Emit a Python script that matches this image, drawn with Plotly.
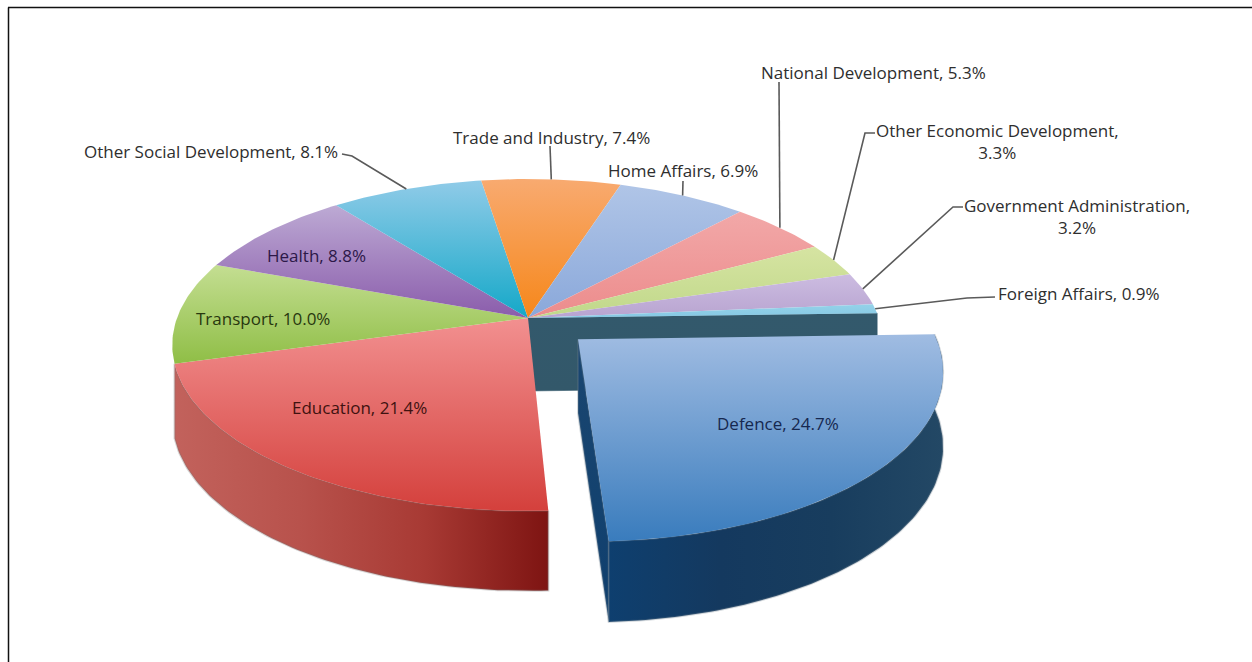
import numpy as np
import plotly.graph_objects as go

# Spending shares, clockwise from the exploded Defence wedge
categories = ["Defence", "Education", "Transport", "Health", "Other Social Development",
              "Trade and Industry", "Home Affairs", "National Development",
              "Other Economic Development", "Government Administration", "Foreign Affairs"]
shares = [24.7, 21.4, 10.0, 8.8, 8.1, 7.4, 6.9, 5.3, 3.3, 3.2, 0.9]

# Top-face gradient (upper colour, lower colour) per wedge
top_colors = [("#a0bce2", "#397cbd"), ("#f29090", "#d4403c"), ("#c4de92", "#8fbe46"),
              ("#bdaad4", "#8a5cab"), ("#90cbe8", "#14a8c8"), ("#f8aa70", "#f6871a"),
              ("#b0c5e7", "#8aa8da"), ("#f2a8a8", "#ec8c8c"), ("#d6e4a2", "#c0d88a"),
              ("#ccbce1", "#b8a4d0"), ("#94d2e9", "#86c8e4")]
text_colors = ["#16284f", "#3f1210", "#28380f", "#2c1848", "#2e2e2e", "#2e2e2e",
               "#2e2e2e", "#2e2e2e", "#2e2e2e", "#2e2e2e", "#2e2e2e"]

# Label anchors and leader elbows, in the pixel-sized axis units
label_pos = [(778, 423), (359, 407), (263, 318), (316, 255), (211, 151), (551, 137),
             (683, 170), (873, 72), (997, 141), (1077, 216), (1079, 293)]
leader_elbow = [None, None, None, None, [(342, 154), (352, 156)], [(550, 146)], [(683, 181)],
                [(779, 82)], [(875, 133), (865, 133)], [(963, 207), (953, 207)],
                [(995, 297), (967, 298)]]
split_label = {"Other Economic Development", "Government Administration"}

# Perspective model of the disc
CX, CY = 528, 318
RX, RY = 351, 161.6
PERSP = 0.1626
THICK = 73
START_DEG = 1.7
EXPLODE = 0.19


def project(u, v, z=0.0):
    s = 1 / (1 + PERSP * np.asarray(v, dtype=float))
    return CX + RX * np.asarray(u) * s, CY - RY * np.asarray(v) * s + THICK * z * np.sqrt(s)


def arc(a0, a1, off=(0, 0), z=0.0):
    n = max(int(abs(a1 - a0)) + 2, 3)
    t = np.radians(np.linspace(a0, a1, n))
    return project(np.cos(t) + off[0], np.sin(t) + off[1], z)


def poly(fig, x, y, gradient, orient="vertical", line="rgba(0,0,0,0)", width=0.6):
    # The y axis runs downward, so vertical colour stops are listed bottom-up
    colors = list(gradient)[::-1] if orient == "vertical" else list(gradient)
    stops = [[i / (len(colors) - 1), c] for i, c in enumerate(colors)]
    fig.add_trace(go.Scatter(
        x=np.append(x, x[0]), y=np.append(y, y[0]), mode="lines", fill="toself",
        line=dict(width=width, color=line),
        fillgradient=dict(type=orient, colorscale=stops),
        hoverinfo="skip", showlegend=False))


edges = START_DEG - np.cumsum([0] + shares) * 3.6
fig = go.Figure()

# Cut face left open behind the pulled wedge
x0, y0 = project(0, 0)
x1, y1 = arc(edges[-1], edges[-1])
xa, ya = project(0, 0, 1)
xb, yb = arc(edges[-1], edges[-1], z=1)
poly(fig, np.array([x0, x1[0], xb[0], xa]), np.array([y0, y1[0], yb[0], ya]),
     ["#33596c", "#33586a"], line="#33596c")

# Outer wall of Education, with a soft grey rim
xt, yt = arc(edges[1], edges[2])
xw, yw = arc(edges[1], edges[2], z=1)
poly(fig, np.concatenate([xt, xw[::-1]]), np.concatenate([yt, yw[::-1]]),
     ["#c2625c", "#b8524c", "#a83a34", "#7e1412"], "horizontal",
     line="rgba(120,120,120,0.3)", width=2)

# Wedges of the main disc
for i in range(1, len(shares)):
    x, y = arc(edges[i], edges[i + 1])
    xc, yc = project(0, 0)
    poly(fig, np.append(x, xc), np.append(y, yc), top_colors[i])

# Pulled wedge: cut wall, outer wall, then top face
mid = np.radians((edges[0] + edges[1]) / 2)
off = (EXPLODE * np.cos(mid), EXPLODE * np.sin(mid))
xc, yc = project(off[0], off[1])
xcb, ycb = project(off[0], off[1], 1)
xe, ye = arc(edges[1], edges[1], off)
xeb, yeb = arc(edges[1], edges[1], off, 1)
poly(fig, np.array([xc, xe[0], xeb[0], xcb]), np.array([yc, ye[0], yeb[0], ycb]),
     ["#1a4670", "#0f3f6e"], line="rgba(110,125,140,0.3)", width=2)
xt, yt = arc(edges[1], edges[0], off)
xw, yw = arc(edges[1], edges[0], off, 1)
poly(fig, np.concatenate([xt, xw[::-1]]), np.concatenate([yt, yw[::-1]]),
     ["#0e3f6f", "#14395f", "#183d5e", "#234865"], "horizontal",
     line="rgba(110,125,140,0.3)", width=2)
x, y = arc(edges[0], edges[1], off)
poly(fig, np.append(x, xc), np.append(y, yc), top_colors[0])

# Leader lines run from each label to the rim at the wedge's middle angle
for i, elbow in enumerate(leader_elbow):
    if not elbow:
        continue
    tx, ty = arc((edges[i] + edges[i + 1]) / 2, (edges[i] + edges[i + 1]) / 2)
    fig.add_trace(go.Scatter(
        x=[p[0] for p in elbow] + [float(tx[0])], y=[p[1] for p in elbow] + [float(ty[0])],
        mode="lines", line=dict(color="#5a5a5a", width=1.6),
        hoverinfo="skip", showlegend=False))

# Wedge labels
for name, val, (px, py), col in zip(categories, shares, label_pos, text_colors):
    sep = ",<br>" if name in split_label else ", "
    fig.add_annotation(x=px, y=py, text=f"{name}{sep}{val:.1f}%", showarrow=False,
                       font=dict(family="Open Sans", size=17, color=col))

# Thin page frame on the left and top
fig.add_shape(type="line", x0=8.5, x1=8.5, y0=7.5, y1=662, line=dict(color="#111111", width=1.5))
fig.add_shape(type="line", x0=8, x1=1252, y0=7.5, y1=7.5, line=dict(color="#111111", width=1.5))

fig.update_xaxes(range=[0, 1252], visible=False, fixedrange=True)
fig.update_yaxes(range=[662, 0], visible=False, fixedrange=True)
fig.update_layout(width=1252, height=662, margin=dict(l=0, r=0, t=0, b=0),
                  paper_bgcolor="white", plot_bgcolor="white", showlegend=False)
fig.write_html("out.html", config=dict(displayModeBar=False))
